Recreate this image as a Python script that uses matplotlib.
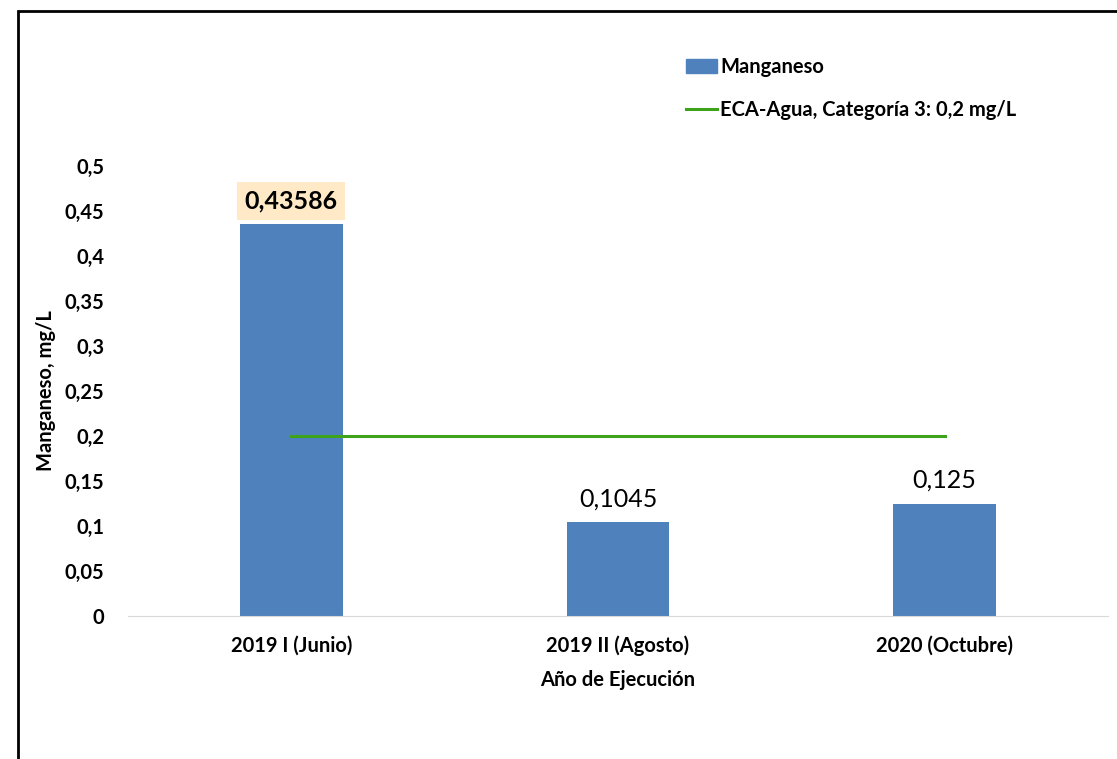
import matplotlib.pyplot as plt
from matplotlib.patches import Rectangle
from matplotlib.lines import Line2D

categorias = ['2019 I (Junio)', '2019 II (Agosto)', '2020 (Octubre)']
manganeso = [0.43586, 0.1045, 0.125]
etiquetas = ['0,43586', '0,1045', '0,125']
eca = [0.2, 0.2, 0.2]
yticks = [0, 0.05, 0.1, 0.15, 0.2, 0.25, 0.3, 0.35, 0.4, 0.45, 0.5]
ytick_labels = ['0', '0,05', '0,1', '0,15', '0,2', '0,25', '0,3', '0,35', '0,4', '0,45', '0,5']

plt.rcParams['font.family'] = ['Lato', 'DejaVu Sans']

fig = plt.figure(figsize=(11.17, 7.59), dpi=100)
ax = fig.add_axes([128 / 1117, 1 - 616 / 759, 980 / 1117, 450 / 759])

x = list(range(len(categorias)))
ax.bar(x, manganeso, width=0.315, color='#4F81BD', zorder=2)
ax.plot(x, eca, color='#3DA31A', linewidth=2.2, zorder=3)

for i, (v, t) in enumerate(zip(manganeso, etiquetas)):
    if i == 0:
        ax.text(i, v + 0.013, t, ha='center', va='bottom', fontsize=18, fontweight='bold',
                bbox=dict(boxstyle='square,pad=0.3', facecolor='#FFE9C6', edgecolor='none'))
    else:
        ax.text(i, v + 0.013, t, ha='center', va='bottom', fontsize=18)

ax.set_xlim(-0.5, 2.5)
ax.set_ylim(0, 0.5)
ax.set_yticks(yticks)
ax.set_yticklabels(ytick_labels, fontsize=14.5, fontweight='bold')
ax.set_xticks(x)
ax.set_xticklabels(categorias, fontsize=14.5, fontweight='bold')
ax.tick_params(length=0, pad=14)
ax.tick_params(axis='y', pad=17)
for s in ['top', 'right', 'left']:
    ax.spines[s].set_visible(False)
ax.spines['bottom'].set_color('#D9D9D9')

ax.set_ylabel('Manganeso, mg/L', fontsize=14.5, fontweight='bold', labelpad=6)
ax.set_xlabel('Año de Ejecución', fontsize=14.5, fontweight='bold', labelpad=10)

handles = [Rectangle((0, 0), 1, 1, color='#4F81BD'),
           Line2D([0], [0], color='#3DA31A', linewidth=2.2)]
fig.legend(handles, ['Manganeso', 'ECA-Agua, Categoría 3: 0,2 mg/L'],
           loc='upper left', bbox_to_anchor=(668 / 1117, 1 - 39 / 759),
           frameon=False, prop={'size': 14.5, 'weight': 'bold'},
           handlelength=1.55, handletextpad=0.15, labelspacing=1.15)

fig.patches.append(Rectangle((18 / 1117, -0.1), 1.2, 1 - 11 / 759 + 0.1,
                             transform=fig.transFigure, fill=False,
                             edgecolor='black', linewidth=2))

fig.savefig('out.png', dpi=100)
